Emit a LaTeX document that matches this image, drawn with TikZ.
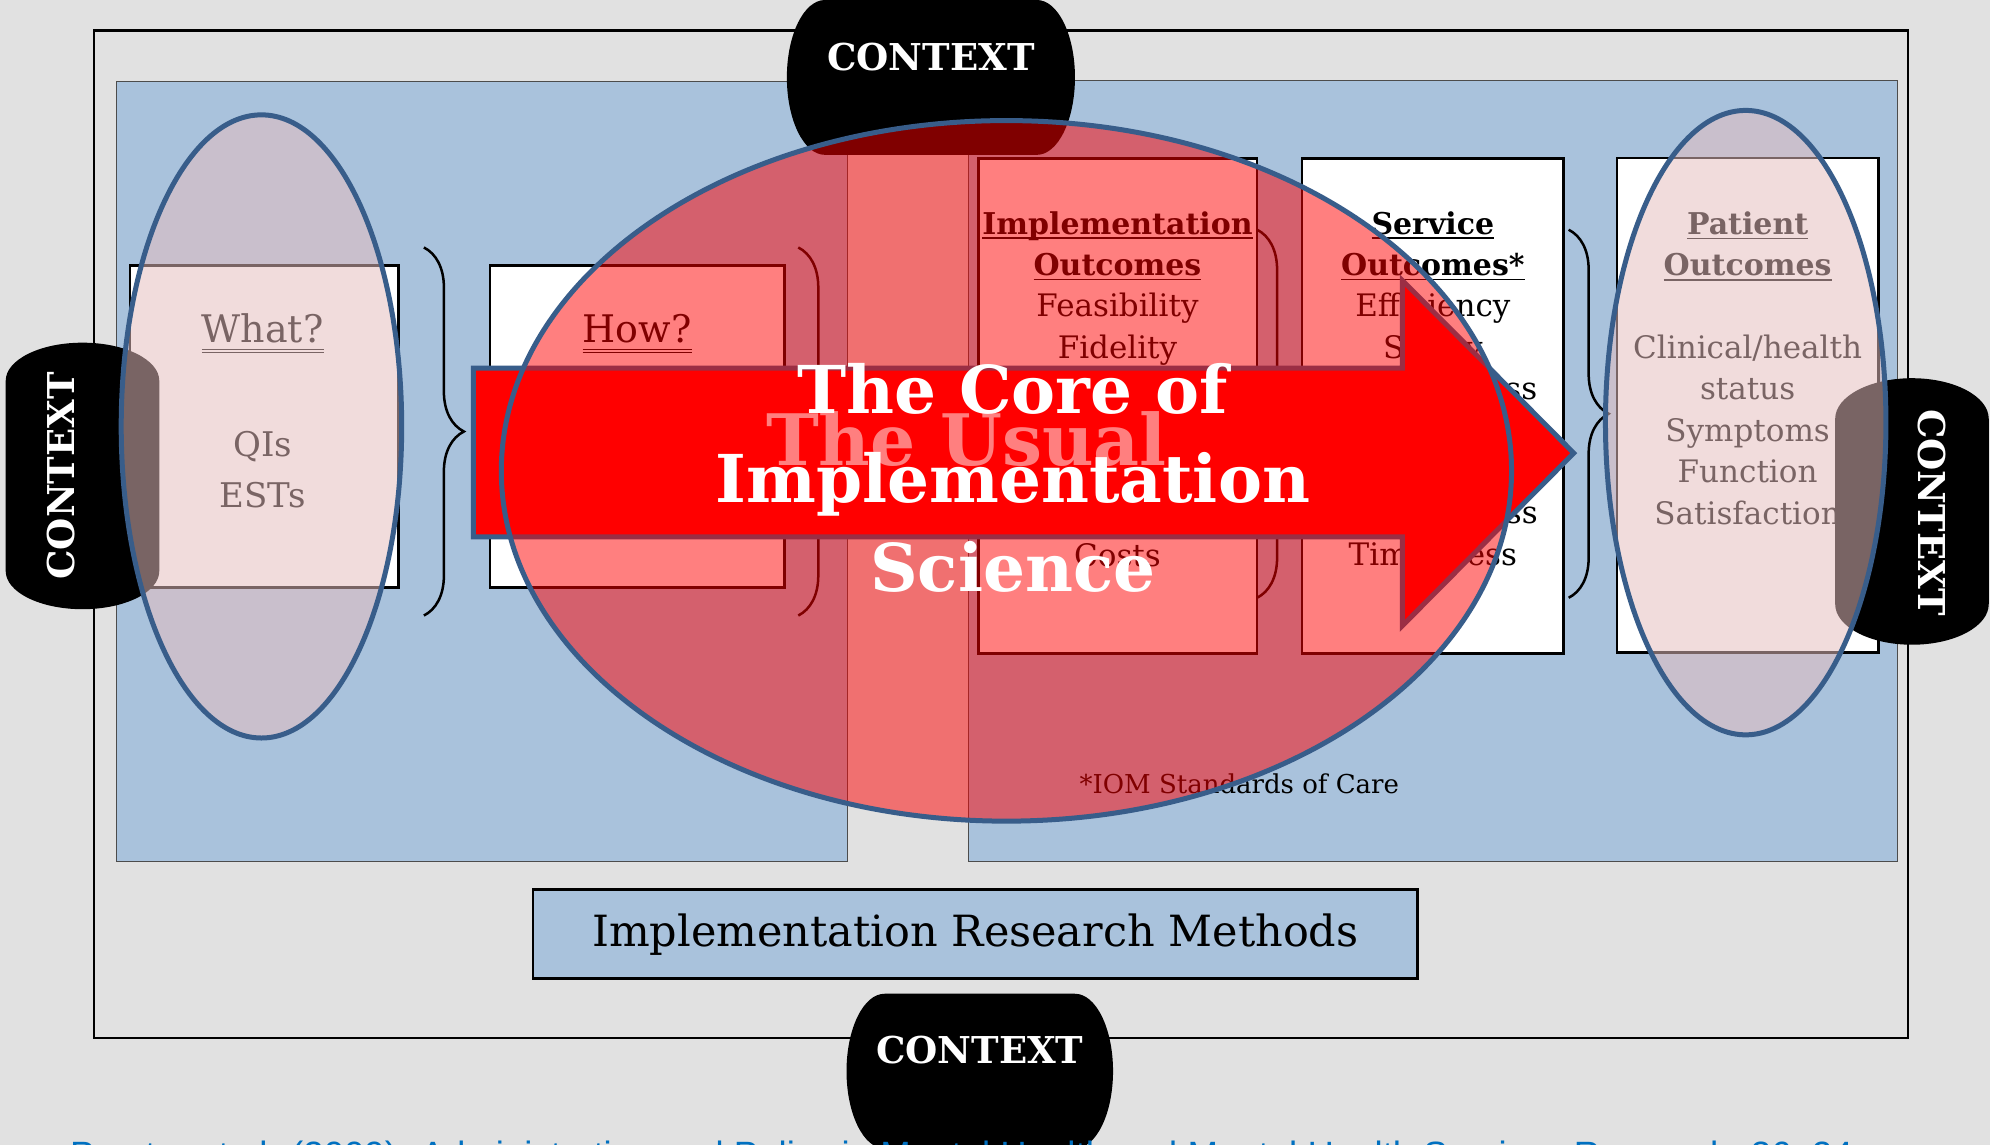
\documentclass[tikz,border=0pt]{standalone}
\usepackage{fontspec}
\setmainfont{DejaVu Serif}
\newfontfamily\citefont{Liberation Sans}
\usetikzlibrary{decorations.pathreplacing}

\definecolor{bggray}{HTML}{E1E1E1}
\definecolor{panelblue}{HTML}{A9C2DC}
\definecolor{ringblue}{HTML}{385D8A}
\definecolor{veilpink}{RGB}{230,190,190}
\definecolor{citeblue}{HTML}{0070C0}

% underlines that sit at a fixed depth below the baseline
\newsavebox\ulbox
\newcommand{\singleul}[1]{\sbox\ulbox{#1}\rlap{\rule[-2.6pt]{\wd\ulbox}{0.9pt}}\usebox\ulbox}
\newcommand{\doubleul}[1]{\sbox\ulbox{#1}\rlap{\rule[-3.9pt]{\wd\ulbox}{0.5pt}}\rlap{\rule[-5.3pt]{\wd\ulbox}{0.5pt}}\usebox\ulbox}

% context capsules: centre x, centre y, half width, half height, cap depth
\newcommand{\hcapsule}[5]{\fill (#1-#3+#5,#2-#4) -- (#1+#3-#5,#2-#4)
  arc[start angle=-90,end angle=90,x radius=#5,y radius=#4] -- (#1-#3+#5,#2+#4)
  arc[start angle=90,end angle=270,x radius=#5,y radius=#4] -- cycle;}
\newcommand{\vcapsule}[5]{\fill (#1-#3,#2-#4+#5)
  arc[start angle=180,end angle=360,x radius=#3,y radius=#5] -- (#1+#3,#2+#4-#5)
  arc[start angle=0,end angle=180,x radius=#3,y radius=#5] -- cycle;}

\begin{document}
\begin{tikzpicture}[x=0.6346pt, y=-0.6346pt,
  frame/.style={draw, line width=1.1pt},
  panel/.style={fill=panelblue, draw=black!70, line width=0.5pt},
  outbox/.style={draw, fill=white, line width=1.3pt},
  curly/.style={draw, line width=1.25pt, decorate, decoration={brace, amplitude=20pt}},
  boxtext/.style={anchor=base, inner sep=0pt, font=\fontsize{15.5}{20}\selectfont},
  headtext/.style={boxtext, font=\bfseries\fontsize{15}{20}\selectfont},
  asktext/.style={boxtext, font=\fontsize{19}{22}\selectfont},
  ctxtext/.style={text=white, inner sep=0pt, font=\bfseries\fontsize{18.5}{20}\selectfont},
  ring/.style={draw=ringblue, line width=2.5pt},
  coretext/.style={anchor=base, inner sep=0pt, text=white, font=\bfseries\fontsize{33}{40}\selectfont}]

\useasboundingbox (0,0) rectangle (1568,902);
\clip (0,0) rectangle (1568,902);
\fill[bggray] (0,0) rectangle (1568,902);

% frame and the two blue panels
\draw[frame] (74.3,24.1) rectangle (1503.6,818);
\draw[panel] (92,64) rectangle (668,678.5);
\draw[panel] (763.5,63.5) rectangle (1495,679);

% what / how
\draw[outbox] (102.5,209) rectangle (314,463);
\node[asktext] (what) at (207,270) {\doubleul{What?}};
\node[boxtext, font=\fontsize{17}{20}\selectfont] (qis) at (207,359.5) {QIs};
\node[boxtext, font=\fontsize{17}{20}\selectfont] (ests) at (207,400) {ESTs};
\draw[curly] (334,195) -- (334,485);

\draw[outbox] (386,209) rectangle (618,463);
\node[asktext] (how) at (502,269.5) {\doubleul{How?}};
\draw[curly] (629,195) -- (629,485);

% the three outcome boxes
\draw[outbox] (771,125) rectangle (990.5,515);
\node[headtext] (impl) at (880.5,184.4) {\singleul{Implementation}};
\node[headtext] (implout) at (880.5,216.8) {\singleul{Outcomes}};
\foreach \txt [count=\i] in {Feasibility,Fidelity}
  \node[boxtext] (impl\i) at (880.5,217+32.6*\i) {\txt};
\node[boxtext] (implcosts) at (880.5,446) {Costs};
\draw[curly] (990.5,181) -- (990.5,471);

\draw[outbox] (1026,125) rectangle (1232,515);
\node[headtext] (serv) at (1129,184.4) {\singleul{Service}};
\node[headtext] (servout) at (1129,216.8) {\singleul{Outcomes*}};
\foreach \txt [count=\i] in {Efficiency,Safety,Effectiveness}
  \node[boxtext] (serv\i) at (1129,217+32.6*\i) {\txt};
\foreach \txt [count=\i from 6] in {centeredness,Timeliness}
  \node[boxtext] (serv\i) at (1129,217+32.6*\i) {\txt};
\draw[curly] (1236,181) -- (1236,471);

\draw[outbox] (1274,124.5) rectangle (1480,514);
\node[headtext] (pat) at (1377,184.5) {\singleul{Patient}};
\node[headtext] (patout) at (1377,217) {\singleul{Outcomes}};
\foreach \txt [count=\i from 2] in {Clinical/health,status,Symptoms,Function,Satisfaction}
  \node[boxtext] (pat\i) at (1377,217+32.7*\i) {\txt};

\node[boxtext, font=\fontsize{13}{15}\selectfont] (iom) at (976.5,625) {*IOM Standards of Care};

% methods bar
\draw[outbox, fill=panelblue] (420,701) rectangle (1117,771);
\node[boxtext, font=\fontsize{21.5}{24}\selectfont] (methods) at (768.5,746) {Implementation Research Methods};

% context all round
\hcapsule{733.5}{61}{113.5}{61}{30}
\node[ctxtext] (ctxtop) at (733.5,45) {CONTEXT};
\hcapsule{772}{844}{105}{61}{30}
\node[ctxtext] (ctxbottom) at (772,827) {CONTEXT};
\vcapsule{65}{375}{60.5}{105}{30}
\node[ctxtext, rotate=90] (ctxleft) at (47.7,375) {CONTEXT};
\vcapsule{1506.5}{403}{60.5}{105}{32}
\node[ctxtext, rotate=-90] (ctxright) at (1522,404) {CONTEXT};

% big arrow, then the veils on top
\draw[ring, fill=red, line join=miter] (373,290) -- (1105,290) -- (1105,221) -- (1240,357)
  -- (1105,493) -- (1105,423) -- (373,423) -- cycle;
\node[coretext, font=\bfseries\fontsize{35.5}{40}\selectfont] (usual) at (761.5,367) {The Usual};

\draw[ring, fill=red, fill opacity=0.5] (793,371) ellipse [x radius=398, y radius=276];
\draw[ring, fill=veilpink, fill opacity=0.53] (206,336) ellipse [x radius=110.5, y radius=245.5];
\draw[ring, fill=veilpink, fill opacity=0.53] (1375.5,333) ellipse [x radius=110.5, y radius=246];

\foreach \txt [count=\i from 0] in {The Core of,Implementation,Science}
  \node[coretext] (core\i) at (798,325.6+70.4*\i) {\txt};

\node[anchor=base west, inner sep=0pt, text=citeblue, font=\citefont\fontsize{18.3}{20}\selectfont] (cite)
  at (55,920) {Proctor et al. (2009). Administration and Policy in Mental Health and Mental Health Services Research, 36, 24};
\end{tikzpicture}
\end{document}
